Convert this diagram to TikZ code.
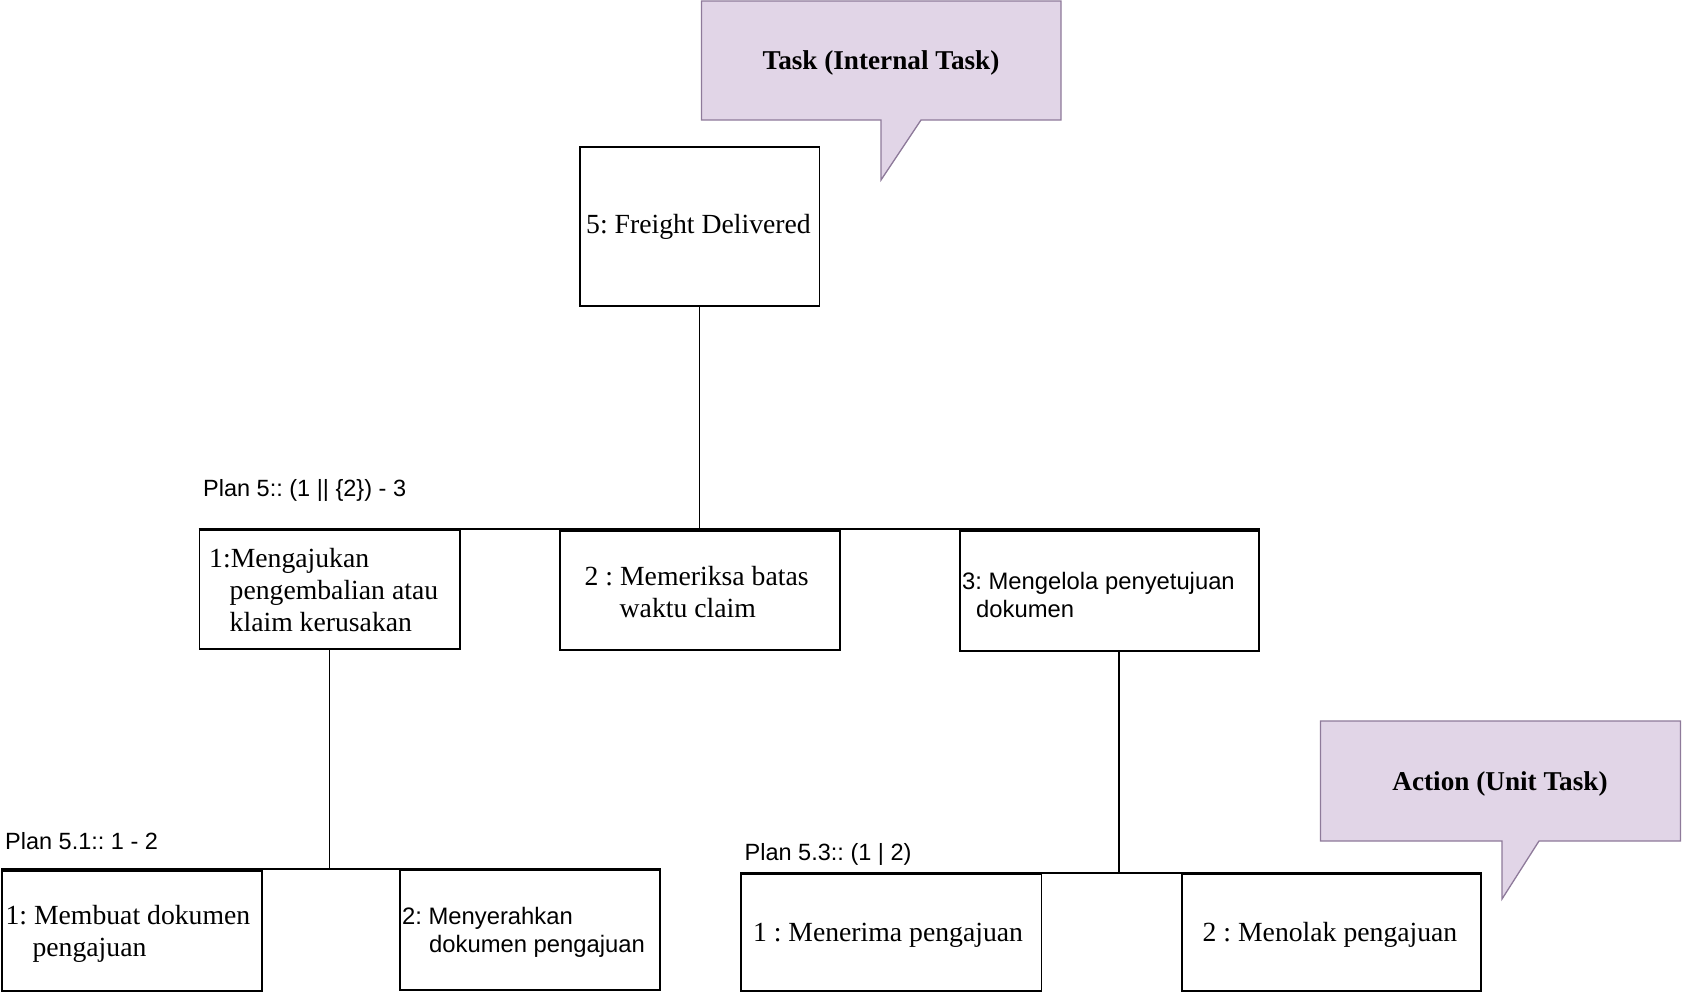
\documentclass[tikz,border=0pt]{standalone}
\usepackage{fontspec}
\setmainfont{Liberation Serif}
\setsansfont{Liberation Sans}
\frenchspacing
\begin{document}
\begin{tikzpicture}[x=1pt,y=-1pt,
  tbox/.style={draw=black, line width=1.6pt, inner sep=0pt, anchor=north west},
  wire/.style={draw=black, line width=1.4pt},
  serif/.style={inner sep=0pt, align=left, font=\fontsize{27.7}{32}\selectfont},
  sans/.style={inner sep=0pt, align=left, font=\sffamily\fontsize{23.8}{28.5}\selectfont},
  planlbl/.style={inner sep=0pt, anchor=west, font=\sffamily\fontsize{23.5}{28}\selectfont},
  callout/.style={fill=calloutfill, draw=calloutline, line width=1.3pt, line join=miter},
  callouttext/.style={inner sep=0pt, font=\bfseries\fontsize{27.2}{32}\selectfont}
]
\definecolor{calloutfill}{HTML}{E1D5E7}
\definecolor{calloutline}{HTML}{8E7A9A}
\useasboundingbox (0,0) rectangle (1682,994);

% callouts
\path[callout] (701.5,1) -- (1061,1) -- (1061,120) -- (921,120) -- (881,180) -- (881,120) -- (701.5,120) -- cycle;
\node[callouttext] (ct1) at (881,63) {Task (Internal Task)};
\path[callout] (1320.5,721) -- (1680.5,721) -- (1680.5,841) -- (1539,841) -- (1502,899) -- (1502,841) -- (1320.5,841) -- cycle;
\node[callouttext] (ct2) at (1500,784) {Action (Unit Task)};

% boxes
\node[tbox, minimum width=239.5pt, minimum height=159pt] (fd) at (579,146) {};
\node[tbox, minimum width=260.5pt, minimum height=119pt] (b1) at (198.5,529) {};
\node[tbox, minimum width=280pt, minimum height=119pt] (b2) at (559,530) {};
\node[tbox, minimum width=299pt, minimum height=120pt] (b3) at (959,530) {};
\node[tbox, minimum width=260pt, minimum height=120pt] (c1) at (1,870) {};
\node[tbox, minimum width=260pt, minimum height=120pt] (c2) at (399,869) {};
\node[tbox, minimum width=300.5pt, minimum height=117pt] (d1) at (740,873) {};
\node[tbox, minimum width=299pt, minimum height=117pt] (d2) at (1181,873) {};

% box texts
\node[serif] (tfd) at (698.5,227) {5: Freight Delivered};
\node[serif, anchor=west] (tb1) at (209,590) {1:Mengajukan\\\hspace{20.5pt}pengembalian atau\\\hspace{20.5pt}klaim kerusakan};
\node[serif, anchor=west] (tb2) at (584.5,592) {2 : Memeriksa batas\\\hspace{35pt}waktu claim};
\node[sans, anchor=west] (tb3) at (962,595) {3: Mengelola penyetujuan\\\hspace{14pt}dokumen};
\node[serif, anchor=west] (tc1) at (5.4,934) {1: Membuat dokumen\\\hspace{27pt}pengajuan};
\node[sans, anchor=west] (tc2) at (402,932.5) {2: Menyerahkan\\\hspace{27pt}dokumen pengajuan};
\node[serif] (td1) at (888,935) {1 : Menerima pengajuan};
\node[serif] (td2) at (1330,935) {2 : Menolak pengajuan};

% plan labels
\node[planlbl] (p5) at (203,490.5) {Plan 5:: (1 || \{2\}) - 3};
\node[planlbl] (p51) at (5,841.5) {Plan 5.1:: 1 - 2};
\node[planlbl] (p53) at (744.5,854.5) {Plan 5.3:: (1 | 2)};

% connectors
\draw[wire] (fd.south) -- (fd.south |- b1.north);
\draw[wire] (b1.north west) -- (b3.north east |- b1.north);
\draw[wire] (b1.south) -- (b1.south |- c2.north);
\draw[wire] (c1.north west |- c2.north) -- (c2.north east);
\draw[wire] ([xshift=9.5pt]b3.south) -- ([xshift=9.5pt]b3.south |- d1.north);
\draw[wire] (d1.north west) -- (d2.north east);
\end{tikzpicture}
\end{document}
